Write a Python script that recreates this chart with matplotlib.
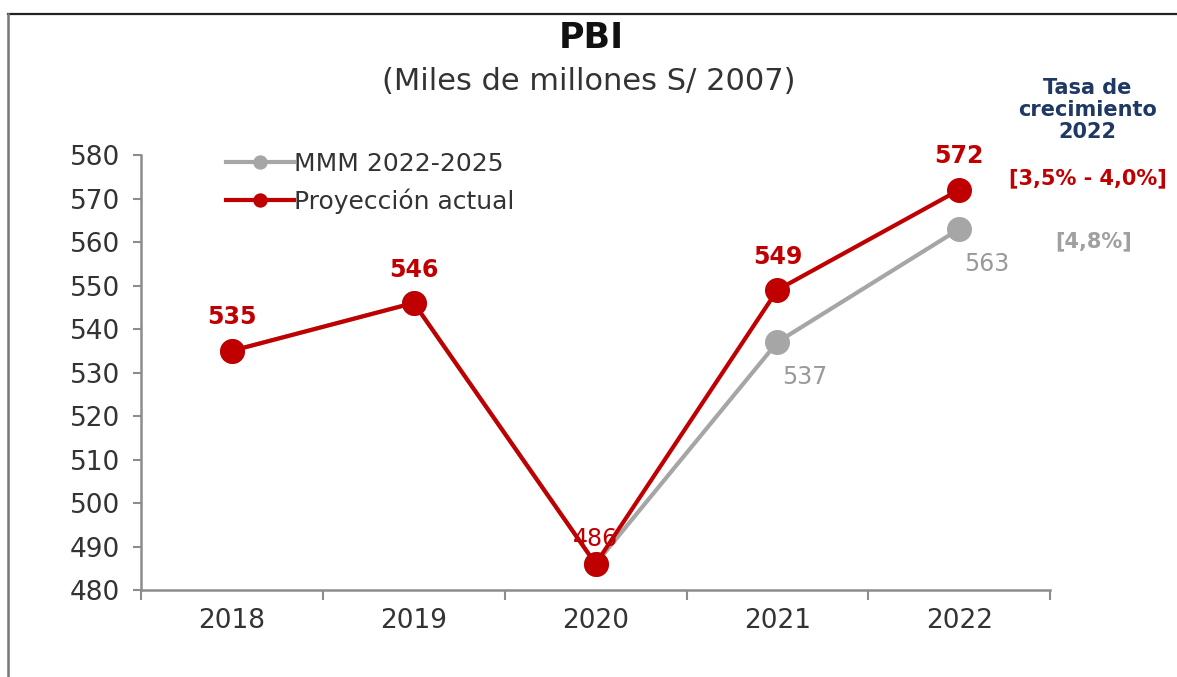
import matplotlib.pyplot as plt
from matplotlib.lines import Line2D

# PBI series (miles de millones de soles de 2007)
years = ["2018", "2019", "2020", "2021", "2022"]
mmm = [535, 546, 486, 537, 563]
proyeccion = [535, 546, 486, 549, 572]
y_ticks = list(range(480, 581, 10))

RED = "#C00000"
GRAY = "#A6A6A6"
NAVY = "#1F3864"
AXIS = "#8C8C8C"
TEXT = "#333333"

plt.rcParams["font.family"] = ["DejaVu Sans"]

fig = plt.figure(figsize=(11.77, 6.77), dpi=100)
ax = fig.add_axes([0.1198, 0.1285, 0.7725, 0.6425])

x = list(range(len(years)))
ax.plot(x, mmm, color=GRAY, lw=3, marker="o", ms=17, label="MMM 2022-2025", zorder=2)
ax.plot(x, proyeccion, color=RED, lw=3, marker="o", ms=17, label="Proyección actual", zorder=3)

ax.set_xlim(-0.5, len(years) - 0.5)
ax.set_ylim(480, 580)
ax.set_yticks(y_ticks)
ax.tick_params(axis="y", labelsize=19, colors=AXIS, labelcolor=TEXT, length=6, width=1.5, pad=9)
ax.set_xticks(x)
ax.set_xticklabels(years)
ax.set_xticks([i - 0.5 for i in range(len(years) + 1)], minor=True)
ax.tick_params(axis="x", which="major", length=0, labelsize=19, labelcolor=TEXT, pad=13)
ax.tick_params(axis="x", which="minor", length=7, width=1.5, colors=AXIS, direction="out")

for side in ["top", "right"]:
    ax.spines[side].set_visible(False)
for side in ["left", "bottom"]:
    ax.spines[side].set_color(AXIS)
    ax.spines[side].set_linewidth(1.8)

# value labels
for i, v in enumerate(proyeccion):
    if i == 2:
        ax.annotate(str(v), (i, v), xytext=(0, 18), textcoords="offset points",
                    ha="center", va="center", fontsize=17, color=RED, zorder=4)
    else:
        ax.annotate(str(v), (i, v), xytext=(0, 24), textcoords="offset points",
                    ha="center", va="center", fontsize=17, color=RED,
                    fontweight="bold", zorder=4)
for i in (3, 4):
    ax.annotate(str(mmm[i]), (i, mmm[i]), xytext=(20, -25), textcoords="offset points",
                ha="center", va="center", fontsize=17, color="#999999", zorder=4)

leg = ax.legend(loc="upper left", bbox_to_anchor=(0.083, 1.03), frameon=False,
                fontsize=18, handlelength=2.7, handletextpad=0.0, labelspacing=0.5,
                markerscale=0.55, borderaxespad=0)
for t in leg.get_texts():
    t.set_color(TEXT)

# titles
fig.text(0.502, 0.944, "PBI", ha="center", va="center", fontsize=25,
         fontweight="bold", color="#111111")
fig.text(0.5, 0.879, "(Miles de millones S/ 2007)", ha="center", va="center",
         fontsize=22, color=TEXT)

# growth rate note
fig.text(0.924, 0.837, "Tasa de\ncrecimiento\n2022", ha="center", va="center",
         fontsize=15, fontweight="bold", color=NAVY, linespacing=1.12)
fig.text(0.924, 0.737, "[3,5% - 4,0%]", ha="center", va="center",
         fontsize=15, fontweight="bold", color=RED)
fig.text(0.929, 0.644, "[4,8%]", ha="center", va="center",
         fontsize=15, fontweight="bold", color="#A0A0A0")

# frame lines along top and left edges
fig.add_artist(Line2D([8 / 1177, 1.0], [1 - 14 / 677, 1 - 14 / 677],
                      transform=fig.transFigure, color="#222222", lw=1.6))
fig.add_artist(Line2D([8 / 1177, 8 / 1177], [0.0, 1 - 14 / 677],
                      transform=fig.transFigure, color="#777777", lw=1.8))

fig.savefig("out.png", dpi=100)
